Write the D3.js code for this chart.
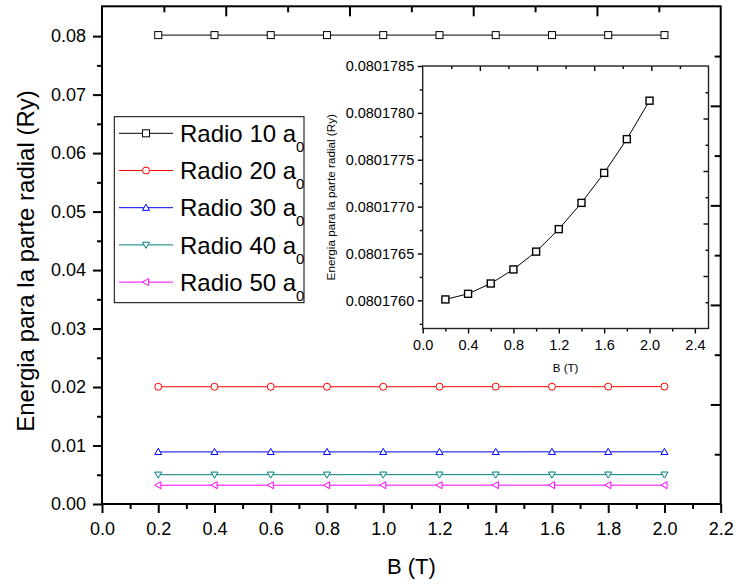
<!DOCTYPE html>
<html>
<head>
<meta charset="utf-8">
<script src="https://cdn.jsdelivr.net/npm/d3@7"></script>
<style>
  body { margin: 0; background: #fff; }
  svg { display: block; font-family: "Liberation Sans", Arial, sans-serif; }
</style>
</head>
<body>
<svg id="chart" width="738" height="584"></svg>
<script>
// magnetic field values (T)
const fieldB = [0.2, 0.4, 0.6, 0.8, 1.0, 1.2, 1.4, 1.6, 1.8, 2.0];

// radial energy (Ry) for each dot radius
const radio10 = [0.08017601, 0.08017607, 0.08017618, 0.08017633, 0.08017652,
                 0.08017676, 0.08017704, 0.08017736, 0.08017772, 0.08017813];
const radio20 = [0.02005, 0.02005, 0.02005, 0.02005, 0.02005,
                 0.02006, 0.02006, 0.02006, 0.02006, 0.02007];
const radio30 = [0.00891, 0.00891, 0.00891, 0.00891, 0.00891,
                 0.00891, 0.00891, 0.00892, 0.00892, 0.00892];
const radio40 = [0.00501, 0.00501, 0.00501, 0.00501, 0.00502,
                 0.00502, 0.00502, 0.00502, 0.00502, 0.00502];
const radio50 = [0.00321, 0.00321, 0.00321, 0.00321, 0.00322,
                 0.00322, 0.00322, 0.00322, 0.00322, 0.00322];

const legendNames = ["Radio 10 a", "Radio 20 a", "Radio 30 a", "Radio 40 a", "Radio 50 a"];

// tick labels
const mainXTicks = [0.0, 0.2, 0.4, 0.6, 0.8, 1.0, 1.2, 1.4, 1.6, 1.8, 2.0, 2.2];
const mainYTicks = [0.00, 0.01, 0.02, 0.03, 0.04, 0.05, 0.06, 0.07, 0.08];
const insetXTicks = [0.0, 0.4, 0.8, 1.2, 1.6, 2.0, 2.4];
const insetYTicks = [0.0801760, 0.0801765, 0.0801770, 0.0801775, 0.0801780, 0.0801785];

const svg = d3.select('#chart');

const seriesList = [
  { values: radio10, color: '#000000', shape: 'square' },
  { values: radio20, color: '#ff0000', shape: 'circle' },
  { values: radio30, color: '#0000ff', shape: 'up' },
  { values: radio40, color: '#008080', shape: 'down' },
  { values: radio50, color: '#ff00ff', shape: 'left' }
];

function marker(sel, shape, color, size, sw) {
  const h = size / 2;
  let m;
  if (shape === 'square') {
    m = sel.append('rect').attr('x', -h).attr('y', -h).attr('width', size).attr('height', size);
  } else if (shape === 'circle') {
    m = sel.append('circle').attr('r', h);
  } else {
    const p = {
      up:   `M0,${-h} L${h},${h * 0.75} L${-h},${h * 0.75} Z`,
      down: `M0,${h} L${h},${-h * 0.75} L${-h},${-h * 0.75} Z`,
      left: `M${-h},0 L${h * 0.75},${-h} L${h * 0.75},${h} Z`
    }[shape];
    m = sel.append('path').attr('d', p);
  }
  m.attr('fill', '#fff').attr('stroke', color).attr('stroke-width', sw);
}

function styleAxis(g, sw) {
  g.select('.domain').remove();
  g.selectAll('line').attr('stroke', '#000').attr('stroke-width', sw);
}

// ---------- main plot ----------
const L = 102, R = 720.7, T = 6.3, B = 504;

const x = d3.scaleLinear().domain([0, 2.2]).range([L, R]);
const y = d3.scaleLinear().domain([0, 0.0851]).range([B, T]);
// top and right axes use their own unlabelled scales
const xTop = d3.scaleLinear().domain([0, 5]).range([L, R]);
const yRight = d3.scaleLinear().domain([0, 5]).range([B, T]);

const line = d3.line().x((d, i) => x(fieldB[i])).y(d => y(d));

seriesList.forEach(s => {
  svg.append('path')
    .attr('d', line(s.values))
    .attr('fill', 'none')
    .attr('stroke', s.color)
    .attr('stroke-width', 1);
  s.values.forEach((v, i) => {
    const g = svg.append('g').attr('transform', `translate(${x(fieldB[i])},${y(v)})`);
    marker(g, s.shape, s.color, 7, 1);
  });
});

// bottom axis
svg.append('g').attr('transform', `translate(0,${B})`)
  .call(d3.axisBottom(x).tickValues(mainXTicks).tickSize(9).tickSizeOuter(0).tickPadding(9)
    .tickFormat(d3.format('.1f')))
  .call(g => styleAxis(g, 2))
  .call(g => g.selectAll('text').attr('font-size', 18).attr('fill', '#000')
    .attr('font-family', '"Liberation Sans", Arial, sans-serif'));
svg.append('g').attr('transform', `translate(0,${B})`)
  .call(d3.axisBottom(x).tickValues(d3.range(0.1, 2.2, 0.2)).tickSize(5).tickSizeOuter(0).tickFormat(''))
  .call(g => styleAxis(g, 2));

// left axis
svg.append('g').attr('transform', `translate(${L},0)`)
  .call(d3.axisLeft(y).tickValues(mainYTicks).tickSize(9).tickSizeOuter(0).tickPadding(7)
    .tickFormat(d3.format('.2f')))
  .call(g => styleAxis(g, 2))
  .call(g => g.selectAll('text').attr('font-size', 18).attr('fill', '#000')
    .attr('font-family', '"Liberation Sans", Arial, sans-serif'));
svg.append('g').attr('transform', `translate(${L},0)`)
  .call(d3.axisLeft(y).tickValues(d3.range(0.005, 0.085, 0.01)).tickSize(5).tickSizeOuter(0).tickFormat(''))
  .call(g => styleAxis(g, 2));

// top axis (inward ticks, no labels)
svg.append('g').attr('transform', `translate(0,${T})`)
  .call(d3.axisTop(xTop).tickValues([1, 2, 3, 4]).tickSize(-10).tickSizeOuter(0).tickFormat(''))
  .call(g => styleAxis(g, 2));
svg.append('g').attr('transform', `translate(0,${T})`)
  .call(d3.axisTop(xTop).tickValues([0.5, 1.5, 2.5, 3.5, 4.5]).tickSize(-6).tickSizeOuter(0).tickFormat(''))
  .call(g => styleAxis(g, 2));

// right axis (inward ticks, no labels)
svg.append('g').attr('transform', `translate(${R},0)`)
  .call(d3.axisRight(yRight).tickValues([1, 2, 3, 4]).tickSize(-10).tickSizeOuter(0).tickFormat(''))
  .call(g => styleAxis(g, 2));
svg.append('g').attr('transform', `translate(${R},0)`)
  .call(d3.axisRight(yRight).tickValues([0.5, 1.5, 2.5, 3.5, 4.5]).tickSize(-6).tickSizeOuter(0).tickFormat(''))
  .call(g => styleAxis(g, 2));

// frame
svg.append('rect')
  .attr('x', L).attr('y', T).attr('width', R - L).attr('height', B - T)
  .attr('fill', 'none').attr('stroke', '#000').attr('stroke-width', 2);

// axis titles
svg.append('text')
  .attr('x', (L + R) / 2).attr('y', 574)
  .attr('text-anchor', 'middle').attr('font-size', 22)
  .text('B (T)');
svg.append('text')
  .attr('transform', `translate(34,261) rotate(-90)`)
  .attr('text-anchor', 'middle').attr('font-size', 24)
  .text('Energia para la parte radial (Ry)');

// ---------- legend ----------
const lg = svg.append('g');
lg.append('rect')
  .attr('x', 114.3).attr('y', 116.7).attr('width', 189.7).attr('height', 186)
  .attr('fill', '#fff').attr('stroke', '#000').attr('stroke-width', 1);

legendNames.forEach((name, i) => {
  const s = seriesList[i];
  const ry = 133.3 + i * 37.2;
  lg.append('line')
    .attr('x1', 119).attr('x2', 173).attr('y1', ry).attr('y2', ry)
    .attr('stroke', s.color).attr('stroke-width', 1);
  const m = lg.append('g').attr('transform', `translate(146,${ry})`);
  marker(m, s.shape, s.color, 7, 1);
  const t = lg.append('text')
    .attr('x', 180).attr('y', ry + 8.6)
    .attr('font-size', 24).attr('fill', '#000')
    .text(name);
  t.append('tspan').attr('dy', 10).attr('font-size', 15).text('0');
});

// ---------- inset ----------
const iL = 422.7, iR = 708.5, iT = 66, iB = 328.5;
const xi = d3.scaleLinear().domain([0, 2.52]).range([iL, iR]);
const yi = d3.scaleLinear().domain([0.0801757, 0.0801785]).range([iB, iT]);
const xiTop = d3.scaleLinear().domain([0, 10]).range([iL, iR]);
const yiRight = d3.scaleLinear().domain([0, 10]).range([iB, iT]);

svg.append('rect')
  .attr('x', iL).attr('y', iT).attr('width', iR - iL).attr('height', iB - iT)
  .attr('fill', '#fff');

svg.append('path')
  .attr('d', d3.line().x((d, i) => xi(fieldB[i])).y(d => yi(d))(radio10))
  .attr('fill', 'none').attr('stroke', '#000').attr('stroke-width', 1);
radio10.forEach((v, i) => {
  const g = svg.append('g').attr('transform', `translate(${xi(fieldB[i])},${yi(v)})`);
  marker(g, 'square', '#000', 7, 1.4);
});

svg.append('g').attr('transform', `translate(0,${iB})`)
  .call(d3.axisBottom(xi).tickValues(insetXTicks).tickSize(5).tickSizeOuter(0).tickPadding(6)
    .tickFormat(d3.format('.1f')))
  .call(g => styleAxis(g, 1.4))
  .call(g => g.selectAll('text').attr('font-size', 14.5).attr('fill', '#000')
    .attr('font-family', '"Liberation Sans", Arial, sans-serif'));
svg.append('g').attr('transform', `translate(0,${iB})`)
  .call(d3.axisBottom(xi).tickValues([0.2, 0.6, 1.0, 1.4, 1.8, 2.2]).tickSize(3).tickSizeOuter(0).tickFormat(''))
  .call(g => styleAxis(g, 1.4));

svg.append('g').attr('transform', `translate(${iL},0)`)
  .call(d3.axisLeft(yi).tickValues(insetYTicks).tickSize(5).tickSizeOuter(0).tickPadding(3.5)
    .tickFormat(d3.format('.7f')))
  .call(g => styleAxis(g, 1.4))
  .call(g => g.selectAll('text').attr('font-size', 14.5).attr('fill', '#000')
    .attr('font-family', '"Liberation Sans", Arial, sans-serif'));
svg.append('g').attr('transform', `translate(${iL},0)`)
  .call(d3.axisLeft(yi).tickValues([0.08017575, 0.08017625, 0.08017675, 0.08017725, 0.08017775, 0.08017825])
    .tickSize(3).tickSizeOuter(0).tickFormat(''))
  .call(g => styleAxis(g, 1.4));

svg.append('g').attr('transform', `translate(0,${iT})`)
  .call(d3.axisTop(xiTop).tickValues([2, 4, 6, 8]).tickSize(-5).tickSizeOuter(0).tickFormat(''))
  .call(g => styleAxis(g, 1.4));
svg.append('g').attr('transform', `translate(0,${iT})`)
  .call(d3.axisTop(xiTop).tickValues([1, 3, 5, 7, 9]).tickSize(-3).tickSizeOuter(0).tickFormat(''))
  .call(g => styleAxis(g, 1.4));
svg.append('g').attr('transform', `translate(${iR},0)`)
  .call(d3.axisRight(yiRight).tickValues([2, 4, 6, 8]).tickSize(-5).tickSizeOuter(0).tickFormat(''))
  .call(g => styleAxis(g, 1.4));
svg.append('g').attr('transform', `translate(${iR},0)`)
  .call(d3.axisRight(yiRight).tickValues([1, 3, 5, 7, 9]).tickSize(-3).tickSizeOuter(0).tickFormat(''))
  .call(g => styleAxis(g, 1.4));

svg.append('rect')
  .attr('x', iL).attr('y', iT).attr('width', iR - iL).attr('height', iB - iT)
  .attr('fill', 'none').attr('stroke', '#222').attr('stroke-width', 1.4);

svg.append('text')
  .attr('x', (iL + iR) / 2).attr('y', 372)
  .attr('text-anchor', 'middle').attr('font-size', 11.5)
  .text('B (T)');
svg.append('text')
  .attr('transform', `translate(335,${(iT + iB) / 2}) rotate(-90)`)
  .attr('text-anchor', 'middle').attr('font-size', 11.7)
  .text('Energia para la parte radial (Ry)');
</script>
</body>
</html>
